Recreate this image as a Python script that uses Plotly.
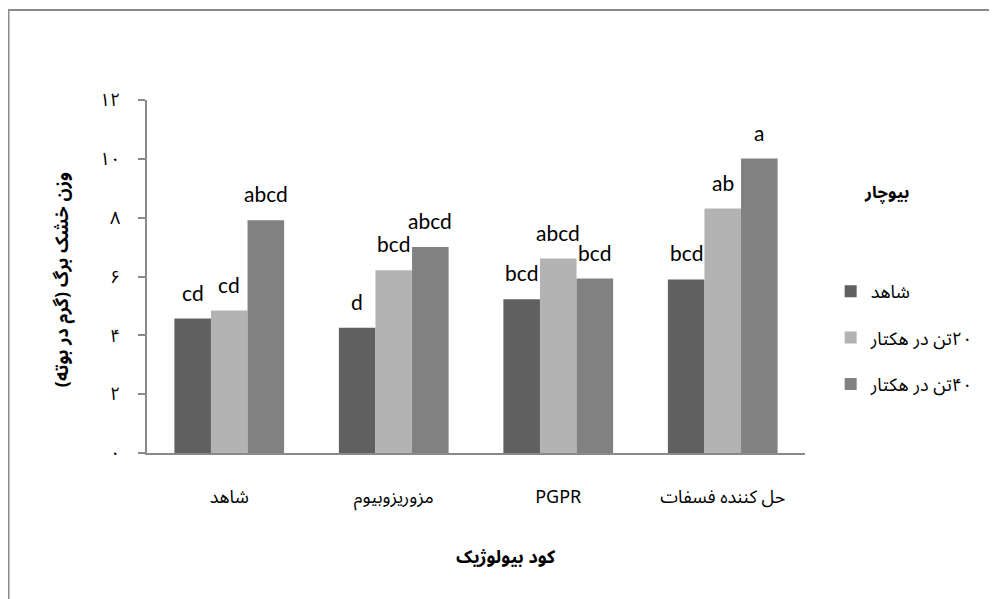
import plotly.graph_objects as go

categories = ["شاهد", "مزوریزوبیوم", "PGPR", "حل کننده فسفات"]
series_names = ["شاهد", "\u200f۲۰تن در هکتار", "\u200f۴۰تن در هکتار"]
values_control = [4.57, 4.26, 5.23, 5.90]
values_20t = [4.84, 6.21, 6.61, 8.31]
values_40t = [7.91, 7.00, 5.93, 10.01]
labels_control = ["cd", "d", "bcd", "bcd"]
labels_20t = ["cd", "bcd", "abcd", "ab"]
labels_40t = ["abcd", "abcd", "bcd", "a"]
tick_vals = [0, 2, 4, 6, 8, 10, 12]
tick_text = ["۰", "۲", "۴", "۶", "۸", "۱۰", "۱۲"]
colors = ["#606060", "#b3b3b3", "#818181"]

all_values = [values_control, values_20t, values_40t]
all_labels = [labels_control, labels_20t, labels_40t]

fa_font = "Noto Sans Arabic, DejaVu Sans, sans-serif"
lat_font = "Lato, Open Sans, sans-serif"

fig = go.Figure()
for k in range(3):
    fig.add_trace(go.Bar(
        x=categories, y=all_values[k], name=series_names[k],
        marker=dict(color=colors[k], line=dict(width=0)),
        legendgroup=f"g{k}",
    ))

bargap = 0.333
bw = (1 - bargap) / 3
annotations = []
for k in range(3):
    for i, (v, t) in enumerate(zip(all_values[k], all_labels[k])):
        annotations.append(dict(
            x=i + (k - 1) * bw, y=v, xref="x", yref="y", text=t,
            showarrow=False, yanchor="bottom", yshift=12,
            font=dict(family=lat_font, size=21, color="#000"),
        ))

# legend title
annotations.append(dict(
    x=1.124, y=0.736, xref="paper", yref="paper", text="<b>بیوچار</b>",
    xanchor="center", yanchor="middle",
    showarrow=False, font=dict(family=fa_font, size=17, color="#000"),
))
# axis titles
annotations.append(dict(
    x=0.545, y=-0.295, xref="paper", yref="paper", text="<b>کود بیولوژیک</b>",
    xanchor="center", yanchor="middle",
    showarrow=False, font=dict(family=fa_font, size=18, color="#000"),
))
annotations.append(dict(
    x=-0.129, y=0.49, xref="paper", yref="paper", text="<b>وزن خشک برگ (گرم در بوته)</b>",
    xanchor="center", yanchor="middle",
    showarrow=False, textangle=-90, font=dict(family=fa_font, size=18, color="#000"),
))

fig.update_layout(
    width=989, height=591,
    margin=dict(l=139, r=192, t=92, b=146, autoexpand=False),
    paper_bgcolor="white", plot_bgcolor="white",
    barmode="group", bargap=bargap, bargroupgap=0,
    showlegend=True,
    legend=dict(x=1.039, y=0.51, xanchor="left", yanchor="top",
                font=dict(family=fa_font, size=18, color="#000"),
                tracegroupgap=20, itemwidth=30),
    annotations=annotations,
    xaxis=dict(
        automargin=False,
        showline=True, linecolor="#898989", linewidth=2,
        ticks="", tickfont=dict(family=fa_font, size=18, color="#000"),
        ticklabelstandoff=26,
        showgrid=False,
    ),
    yaxis=dict(
        automargin=False,
        range=[0, 12], tickvals=tick_vals, ticktext=tick_text,
        showline=True, linecolor="#898989", linewidth=2,
        ticks="outside", ticklen=7, tickcolor="#898989", tickwidth=2,
        tickfont=dict(family=fa_font, size=18, color="#000"),
        ticklabelstandoff=14,
        showgrid=False, zeroline=False,
    ),
    shapes=[dict(type="rect", xref="paper", yref="paper",
                 x0=-0.2105, x1=1.6, y0=-0.6, y1=1.255,
                 line=dict(color="#8a8a8a", width=2), fillcolor="rgba(0,0,0,0)", layer="below")],
)

fig.write_html("out.html")
